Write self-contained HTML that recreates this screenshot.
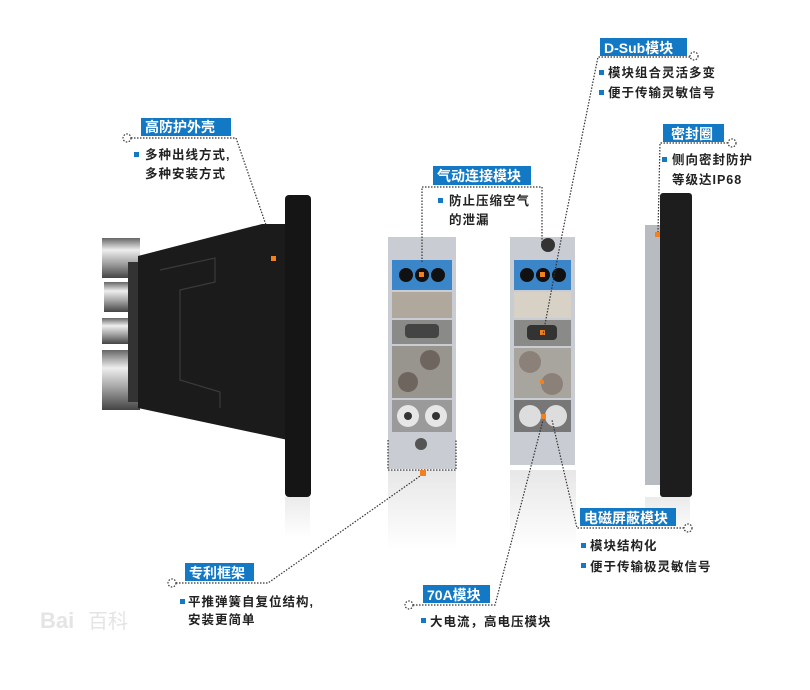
<!DOCTYPE html>
<html><head><meta charset="utf-8"><style>
html,body{margin:0;padding:0;background:#fff;}
svg{display:block;font-family:"Liberation Sans","Noto Sans CJK SC",sans-serif;}
.lb{fill:#fff;font-size:14px;font-weight:bold;}
.t{fill:#222;font-size:12.5px;font-weight:bold;letter-spacing:1px;}
.d{stroke:#333;stroke-width:1.2;stroke-dasharray:1.5 1.5;fill:none;}
</style></head><body>
<svg width="810" height="690" viewBox="0 0 810 690">
<defs>
<linearGradient id="silv" x1="0" y1="0" x2="0" y2="1">
<stop offset="0" stop-color="#666"/><stop offset="0.3" stop-color="#eee"/><stop offset="0.6" stop-color="#aaa"/><stop offset="1" stop-color="#444"/></linearGradient>
<linearGradient id="fade" x1="0" y1="0" x2="0" y2="1">
<stop offset="0" stop-color="#ddd"/><stop offset="1" stop-color="#fff"/></linearGradient>
</defs>
<rect x="388" y="470" width="68" height="80" fill="url(#fade)" opacity="0.7"/>
<rect x="510" y="470" width="66" height="80" fill="url(#fade)" opacity="0.7"/>
<rect x="645" y="497" width="45" height="40" fill="url(#fade)" opacity="0.6"/>
<rect x="285" y="497" width="25" height="40" fill="url(#fade)" opacity="0.6"/>
<rect x="102" y="238" width="38" height="40" fill="url(#silv)"/>
<rect x="104" y="282" width="36" height="30" fill="url(#silv)"/>
<rect x="102" y="318" width="38" height="26" fill="url(#silv)"/>
<rect x="102" y="350" width="38" height="60" fill="url(#silv)"/>
<rect x="128" y="262" width="14" height="140" fill="#333"/>
<polygon points="138,256 262,224 288,224 288,440 138,408" fill="#1b1b1b"/>
<polyline points="160,270 215,258 215,282 180,290 180,380 220,392 220,408" stroke="#3a3a3a" stroke-width="1.2" fill="none"/>
<rect x="285" y="195" width="26" height="302" rx="4" fill="#151515"/>
<rect x="271" y="256" width="5" height="5" fill="#f08020"/>
<rect x="388" y="237" width="68" height="232" fill="#c9ccd2"/>
<rect x="392" y="260" width="60" height="30" fill="#3b86c8"/>
<circle cx="406" cy="275" r="7" fill="#111"/><circle cx="422" cy="275" r="7" fill="#111"/><circle cx="438" cy="275" r="7" fill="#111"/>
<rect x="419" y="272" width="5" height="5" fill="#f08020"/>
<rect x="392" y="292" width="60" height="26" fill="#b0a89c"/>
<rect x="392" y="320" width="60" height="24" fill="#8a8a88"/>
<rect x="405" y="324" width="34" height="14" rx="4" fill="#444"/>
<rect x="392" y="346" width="60" height="52" fill="#98958f"/>
<circle cx="430" cy="360" r="10" fill="#6d655e"/><circle cx="408" cy="382" r="10" fill="#6d655e"/>
<rect x="392" y="400" width="60" height="32" fill="#9a9a9a"/>
<circle cx="408" cy="416" r="11" fill="#e6e6e6"/><circle cx="436" cy="416" r="11" fill="#e6e6e6"/>
<circle cx="408" cy="416" r="4" fill="#333"/><circle cx="436" cy="416" r="4" fill="#333"/>
<circle cx="421" cy="444" r="6" fill="#555"/>
<rect x="510" y="237" width="65" height="228" fill="#c9ccd2"/>
<circle cx="548" cy="245" r="7" fill="#333"/>
<rect x="514" y="260" width="57" height="30" fill="#3b86c8"/>
<circle cx="527" cy="275" r="7" fill="#111"/><circle cx="543" cy="275" r="7" fill="#111"/><circle cx="559" cy="275" r="7" fill="#111"/>
<rect x="540" y="272" width="5" height="5" fill="#f08020"/>
<rect x="514" y="292" width="57" height="26" fill="#d8d2c6"/>
<rect x="514" y="320" width="57" height="26" fill="#8a8a88"/>
<rect x="527" y="325" width="30" height="15" rx="4" fill="#333"/>
<rect x="540" y="330" width="5" height="5" fill="#f08020"/>
<rect x="514" y="348" width="57" height="50" fill="#a8a59f"/>
<circle cx="530" cy="362" r="11" fill="#8b8178"/><circle cx="552" cy="384" r="11" fill="#8b8178"/>
<rect x="540" y="380" width="4" height="4" fill="#f08020"/>
<rect x="514" y="400" width="57" height="32" fill="#777"/>
<circle cx="530" cy="416" r="11" fill="#ddd"/><circle cx="556" cy="416" r="11" fill="#ddd"/>
<rect x="541" y="414" width="5" height="5" fill="#f08020"/>
<rect x="645" y="225" width="16" height="260" fill="#b8bcc0"/>
<rect x="660" y="193" width="32" height="304" rx="3" fill="#1d1d1d"/>
<rect x="655" y="232" width="5" height="5" fill="#f08020"/>
<circle cx="127" cy="138" r="4" class="d"/>
<polyline class="d" points="131,138 236,138 266,225"/>
<polyline class="d" points="422,262 422,187 542,187 542,245"/>
<circle cx="694" cy="56" r="4" class="d"/>
<polyline class="d" points="690,57 598,57 560,245 543,335"/>
<circle cx="732" cy="143" r="4" class="d"/>
<polyline class="d" points="728,143 660,143 658,232"/>
<polyline class="d" points="388,440 388,470 456,470 456,440"/>
<circle cx="172" cy="583" r="4" class="d"/>
<polyline class="d" points="176,583 268,583 423,474"/>
<rect x="420" y="470" width="6" height="6" fill="#f08020"/>
<circle cx="409" cy="605" r="4" class="d"/>
<polyline class="d" points="413,605 495,605 543,420"/>
<circle cx="688" cy="528" r="4" class="d"/>
<polyline class="d" points="684,528 577,528 552,420"/>
<rect x="141" y="118" width="90" height="18" fill="#1479c4"/><text x="145" y="132" class="lb">高防护外壳</text>
<rect x="134" y="152" width="5" height="5" fill="#1479c4"/><text x="145" y="159" class="t">多种出线方式,</text><text x="145" y="178" class="t">多种安装方式</text>
<rect x="433" y="166" width="98" height="19" fill="#1479c4"/><text x="437" y="181" class="lb">气动连接模块</text>
<rect x="438" y="198" width="5" height="5" fill="#1479c4"/><text x="449" y="205" class="t">防止压缩空气</text><text x="449" y="224" class="t">的泄漏</text>
<rect x="600" y="38" width="87" height="18" fill="#1479c4"/><text x="604" y="53" class="lb">D-Sub模块</text>
<rect x="599" y="70" width="5" height="5" fill="#1479c4"/><text x="608" y="77" class="t">模块组合灵活多变</text>
<rect x="599" y="90" width="5" height="5" fill="#1479c4"/><text x="608" y="97" class="t">便于传输灵敏信号</text>
<rect x="663" y="124" width="61" height="18" fill="#1479c4"/><text x="671" y="139" class="lb">密封圈</text>
<rect x="662" y="157" width="5" height="5" fill="#1479c4"/><text x="672" y="164" class="t">侧向密封防护</text><text x="672" y="184" class="t">等级达IP68</text>
<rect x="580" y="508" width="96" height="18" fill="#1479c4"/><text x="584" y="523" class="lb">电磁屏蔽模块</text>
<rect x="581" y="543" width="5" height="5" fill="#1479c4"/><text x="590" y="550" class="t">模块结构化</text>
<rect x="581" y="563" width="5" height="5" fill="#1479c4"/><text x="590" y="571" class="t">便于传输极灵敏信号</text>
<rect x="185" y="563" width="69" height="18" fill="#1479c4"/><text x="189" y="578" class="lb">专利框架</text>
<rect x="180" y="599" width="5" height="5" fill="#1479c4"/><text x="188" y="606" class="t">平推弹簧自复位结构,</text><text x="188" y="624" class="t">安装更简单</text>
<rect x="423" y="585" width="67" height="18" fill="#1479c4"/><text x="427" y="600" class="lb">70A模块</text>
<rect x="421" y="618" width="5" height="5" fill="#1479c4"/><text x="430" y="626" class="t">大电流，高电压模块</text>
<text x="40" y="628" fill="#e4e4e4" font-size="22" font-weight="bold">Bai</text><text x="88" y="628" fill="#e4e4e4" font-size="20">百科</text>
</svg>
</body></html>
